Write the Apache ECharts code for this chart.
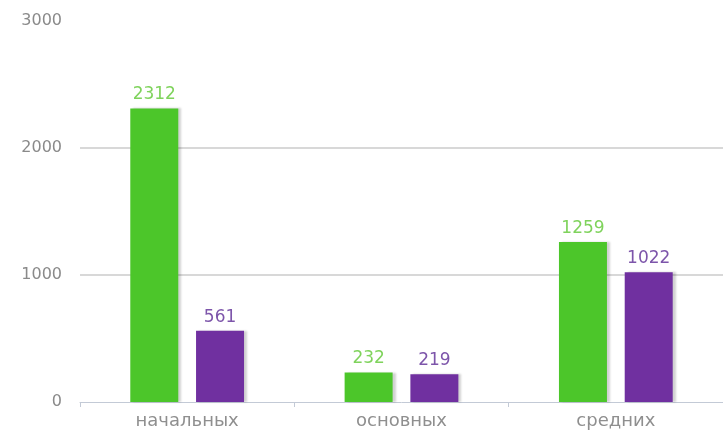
<!DOCTYPE html>
<html><head><meta charset="utf-8">
<script src="https://cdn.jsdelivr.net/npm/echarts@6/dist/echarts.min.js"></script>
<style>html,body{margin:0;padding:0;background:#fff}#c{width:723px;height:433px}</style>
</head><body><div id="c"></div>
<script>
const categories = ['начальных', 'основных', 'средних'];
const greenValues = [2312, 232, 1259];
const purpleValues = [561, 219, 1022];
const yTicks = [0, 1000, 2000, 3000];

const chart = echarts.init(document.getElementById('c'));
const font = 'DejaVu Sans';
const shadow = {shadowColor: 'rgba(0,0,0,0.18)', shadowOffsetX: 3, shadowOffsetY: 0, shadowBlur: 2};
chart.setOption({
  animation: false,
  grid: {left: 80, right: 0, top: 21, bottom: 31},
  xAxis: {
    type: 'category', data: categories,
    axisLine: {lineStyle: {color: '#c3cad6', width: 1}},
    axisTick: {show: true, length: 5, lineStyle: {color: '#c3cad6'}},
    axisLabel: {color: '#8f8f8f', fontFamily: font, fontSize: 18, margin: 10}
  },
  yAxis: {
    type: 'value', min: yTicks[0], max: yTicks[yTicks.length - 1], interval: 1000,
    axisLine: {show: false}, axisTick: {show: false},
    axisLabel: {color: '#8a8a8a', fontFamily: font, fontSize: 16, margin: 18, formatter: v => String(v)},
    splitLine: {lineStyle: {color: ['transparent', '#d8d8d8', '#d8d8d8', 'transparent'], width: 2}}
  },
  series: [
    {type: 'bar', data: greenValues, barWidth: 48, barGap: '37%',
     itemStyle: Object.assign({color: '#4cc62a'}, shadow),
     label: {show: true, position: 'top', distance: 5, color: '#7fd35c', fontFamily: font, fontSize: 17}},
    {type: 'bar', data: purpleValues, barWidth: 48,
     itemStyle: Object.assign({color: '#7030a0'}, shadow),
     label: {show: true, position: 'top', distance: 5, color: '#7d55aa', fontFamily: font, fontSize: 17}}
  ]
});
</script></body></html>
